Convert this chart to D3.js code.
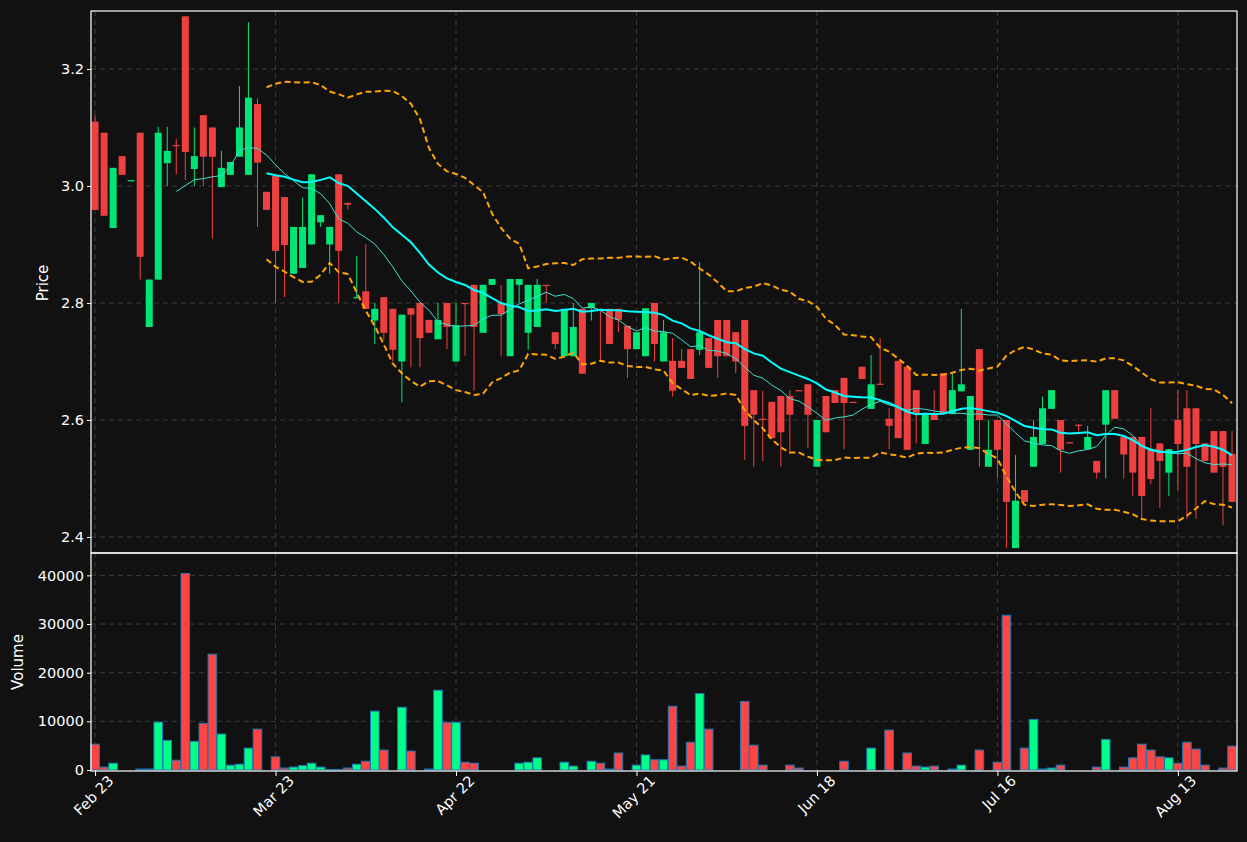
<!DOCTYPE html>
<html><head><meta charset="utf-8">
<script src="https://cdn.jsdelivr.net/npm/d3@7"></script>
<style>body{margin:0;background:#111111;}svg{display:block;font-family:"DejaVu Sans",sans-serif;}</style>
</head><body><svg id="c" width="1247" height="842"></svg>
<script>
const tickLabels = ["Feb 23","Mar 23","Apr 22","May 21","Jun 18","Jul 16","Aug 13"];
const tickIndex = [0,20,40,60,80,100,120];
const open = [3.11,3.091,2.928,3.051,3.01,3.091,2.759,2.84,3.039,3.07,3.29,3.029,3.121,3.1,2.998,3.019,3.05,3.019,3.14,2.99,
3.017,2.981,2.85,2.86,2.9,2.938,2.9,3.02,2.971,2.81,2.82,2.77,2.81,2.79,2.7,2.791,2.8,2.771,2.738,2.8,
2.7,2.8,2.831,2.749,2.831,2.8,2.709,2.831,2.749,2.759,2.831,2.75,2.709,2.709,2.79,2.791,2.79,2.79,2.79,2.761,
2.721,2.709,2.8,2.7,2.701,2.701,2.721,2.72,2.74,2.771,2.771,2.75,2.771,2.651,2.602,2.631,2.641,2.641,2.651,2.661,
2.52,2.641,2.651,2.672,2.631,2.691,2.619,2.662,2.602,2.701,2.691,2.651,2.559,2.612,2.68,2.61,2.649,2.549,2.721,2.52,
2.6,2.6,2.381,2.48,2.52,2.559,2.619,2.6,2.562,2.592,2.55,2.53,2.592,2.651,2.571,2.571,2.571,2.55,2.56,2.51,
2.6,2.62,2.62,2.56,2.581,2.581,2.542];
const high = [3.121,3.091,3.031,3.051,3.01,3.091,2.84,3.101,3.101,3.08,3.29,3.1,3.121,3.1,3.06,3.041,3.171,3.28,3.15,2.99,
3.017,2.981,2.93,2.98,3.02,2.95,2.93,3.02,2.972,2.88,2.9,2.8,2.81,2.79,2.78,2.791,2.8,2.771,2.8,2.8,
2.8,2.8,2.831,2.831,2.841,2.831,2.841,2.841,2.831,2.841,2.831,2.75,2.79,2.8,2.79,2.8,2.79,2.79,2.79,2.761,
2.75,2.791,2.8,2.771,2.74,2.721,2.721,2.87,2.74,2.771,2.771,2.75,2.771,2.651,2.65,2.631,2.641,2.651,2.651,2.661,
2.6,2.641,2.651,2.672,2.631,2.691,2.711,2.74,2.62,2.701,2.691,2.651,2.612,2.651,2.68,2.68,2.79,2.641,2.721,2.6,
2.6,2.6,2.54,2.48,2.6,2.64,2.651,2.6,2.562,2.592,2.59,2.53,2.651,2.651,2.571,2.571,2.571,2.621,2.56,2.55,
2.651,2.651,2.62,2.56,2.581,2.581,2.581];
const low = [2.959,2.949,2.928,3.019,3.01,2.84,2.759,2.84,3.0,3.02,3.01,3.0,3.0,2.91,2.998,3.019,3.05,3.019,2.93,2.959,
2.8,2.81,2.85,2.86,2.9,2.93,2.85,2.8,2.96,2.81,2.79,2.73,2.737,2.7,2.63,2.69,2.69,2.749,2.738,2.721,
2.7,2.71,2.65,2.749,2.831,2.709,2.709,2.8,2.72,2.759,2.8,2.721,2.709,2.709,2.679,2.77,2.7,2.73,2.75,2.672,
2.721,2.709,2.7,2.7,2.64,2.689,2.67,2.711,2.689,2.672,2.709,2.68,2.532,2.52,2.53,2.569,2.52,2.542,2.65,2.552,
2.52,2.579,2.629,2.55,2.63,2.67,2.619,2.66,2.55,2.569,2.549,2.56,2.559,2.6,2.61,2.61,2.649,2.549,2.52,2.52,
2.5,2.381,2.381,2.46,2.52,2.559,2.619,2.51,2.56,2.58,2.55,2.5,2.5,2.602,2.5,2.47,2.431,2.49,2.45,2.47,
2.48,2.431,2.431,2.53,2.51,2.42,2.46];
const close = [2.959,2.949,3.031,3.019,3.01,2.879,2.84,3.091,3.06,3.068,3.058,3.051,3.05,3.05,3.031,3.041,3.1,3.151,3.04,2.959,
2.889,2.899,2.93,2.93,3.02,2.95,2.93,2.889,2.968,2.81,2.79,2.79,2.749,2.72,2.78,2.78,2.74,2.749,2.771,2.759,
2.762,2.798,2.759,2.831,2.841,2.781,2.841,2.841,2.831,2.831,2.829,2.73,2.79,2.759,2.679,2.8,2.789,2.73,2.771,2.721,
2.75,2.791,2.73,2.75,2.65,2.689,2.67,2.75,2.689,2.709,2.709,2.7,2.59,2.609,2.6,2.569,2.579,2.609,2.65,2.609,
2.6,2.579,2.629,2.629,2.63,2.67,2.661,2.66,2.59,2.569,2.549,2.612,2.612,2.6,2.61,2.651,2.661,2.641,2.6,2.549,
2.549,2.46,2.462,2.46,2.571,2.62,2.651,2.549,2.56,2.591,2.571,2.51,2.651,2.602,2.541,2.51,2.47,2.499,2.53,2.55,
2.559,2.52,2.559,2.53,2.51,2.52,2.46];
const volume = [5300,600,1400,0,0,200,200,9850,6100,2000,40400,5900,9600,23800,7400,1000,1200,4500,8400,0,
2700,400,600,900,1400,600,100,100,400,1200,1800,12100,4100,0,12900,3900,0,200,16400,9800,
9800,1600,1400,0,0,0,0,1400,1600,2500,0,0,1600,800,0,1800,1400,200,3500,0,
1000,3100,2100,2100,13100,800,5700,15700,8400,0,0,0,14100,5100,1000,0,0,1000,400,0,
0,0,0,1800,0,0,4500,0,8200,0,3500,800,600,800,0,200,1000,0,4100,0,
1600,31800,0,4500,10400,200,400,1000,0,0,0,600,6300,0,600,2500,5300,4100,2700,2500,
1400,5700,4300,1000,0,400,4900];

const UP="#00e676", DN="#ef4040", VUP="#00ff88", VDN="#ff4444";
const svg=d3.select("#c");
svg.append("rect").attr("width",1247).attr("height",842).attr("fill","#111111");
const L=91,R=1237,T=11,M=553,B=771;
const n=close.length;
const x=d3.scaleLinear().domain([-0.45,126.55]).range([L,R]);
const yP=d3.scaleLinear().domain([2.3726,3.2991]).range([M,T]);
const yV=d3.scaleLinear().domain([0,44600]).range([770,M]);
const bw=7;

function grid(g,xs,y0,y1){
  g.selectAll(".vg").data(xs).join("line").attr("x1",d=>x(d)).attr("x2",d=>x(d)).attr("y1",y0).attr("y2",y1)
   .attr("stroke","#3a3a3a").attr("stroke-dasharray","5,4").attr("stroke-width",1);
}
const gp=svg.append("g");
grid(gp,tickIndex,T,M);
[2.4,2.6,2.8,3.0,3.2].forEach(v=>gp.append("line").attr("x1",L).attr("x2",R).attr("y1",yP(v)).attr("y2",yP(v)).attr("stroke","#3a3a3a").attr("stroke-dasharray","5,4"));
const gv=svg.append("g");
grid(gv,tickIndex,M,B);
[10000,20000,30000,40000].forEach(v=>gv.append("line").attr("x1",L).attr("x2",R).attr("y1",yV(v)).attr("y2",yV(v)).attr("stroke","#3a3a3a").attr("stroke-dasharray","5,4"));

svg.append("clipPath").attr("id","cp").append("rect").attr("x",L).attr("y",T).attr("width",R-L).attr("height",M-T);
const pc=svg.append("g").attr("clip-path","url(#cp)");
const idx=d3.range(n);
pc.selectAll(".w").data(idx).join("line").attr("x1",i=>x(i)).attr("x2",i=>x(i))
  .attr("y1",i=>yP(high[i])).attr("y2",i=>yP(low[i])).attr("stroke",i=>close[i]>=open[i]?UP:DN).attr("stroke-width",1);
pc.selectAll(".b").data(idx).join("rect").attr("x",i=>x(i)-bw/2).attr("width",bw)
  .attr("y",i=>yP(Math.max(open[i],close[i]))).attr("height",i=>Math.max(1.2,Math.abs(yP(open[i])-yP(close[i]))))
  .attr("fill",i=>close[i]>=open[i]?UP:DN);
function ma(p){return idx.map(i=>i<p-1?null:d3.mean(close.slice(i-p+1,i+1)));}
function sd(p){return idx.map(i=>i<p-1?null:d3.deviation(close.slice(i-p+1,i+1)));}
const ma10=ma(10), ma20=ma(20), s20=sd(20);
const line=d3.line().defined(d=>d[1]!=null).x(d=>x(d[0])).y(d=>yP(d[1]));
pc.append("path").attr("d",line(idx.map(i=>[i,ma20[i]==null?null:ma20[i]+2*s20[i]]))).attr("fill","none").attr("stroke","#ffa500").attr("stroke-width",2).attr("stroke-dasharray","6,3.5");
pc.append("path").attr("d",line(idx.map(i=>[i,ma20[i]==null?null:ma20[i]-2*s20[i]]))).attr("fill","none").attr("stroke","#ffa500").attr("stroke-width",2).attr("stroke-dasharray","6,3.5");
pc.append("path").attr("d",line(idx.map(i=>[i,ma10[i]]))).attr("fill","none").attr("stroke","#40e0d0").attr("stroke-width",1);
pc.append("path").attr("d",line(idx.map(i=>[i,ma20[i]]))).attr("fill","none").attr("stroke","#00ffff").attr("stroke-width",2);

svg.selectAll(".v").data(idx.filter(i=>volume[i]>0)).join("rect").attr("x",i=>x(i)-4.3).attr("width",8.6)
  .attr("y",i=>yV(volume[i])).attr("height",i=>yV(0)-yV(volume[i]))
  .attr("fill",i=>close[i]>=open[i]?VUP:VDN).attr("stroke","#1f77b4").attr("stroke-width",1);

[[T,M],[M,B]].forEach(([a,b])=>svg.append("rect").attr("x",L).attr("y",a).attr("width",R-L).attr("height",b-a).attr("fill","none").attr("stroke","#ffffff").attr("stroke-width",1.2));

const axP=d3.axisLeft(yP).tickValues([2.4,2.6,2.8,3.0,3.2]).tickFormat(d3.format(".1f")).tickSize(4);
const axV=d3.axisLeft(yV).tickValues([0,10000,20000,30000,40000]).tickFormat(d3.format("d")).tickSize(4);
const axX=d3.axisBottom(x).tickValues(tickIndex).tickFormat((d,i)=>tickLabels[i]).tickSize(5);
function style(g){g.select(".domain").remove();g.selectAll("line").attr("stroke","#fff");g.selectAll("text").attr("fill","#fff").style("font-size","14.5px").style("font-family","DejaVu Sans");}
svg.append("g").attr("transform",`translate(${L},0)`).call(axP).call(style);
svg.append("g").attr("transform",`translate(${L},0)`).call(axV).call(style);
const gx=svg.append("g").attr("transform",`translate(0,${B})`).call(axX).call(style);
gx.selectAll("text").attr("text-anchor","end").attr("dx","0.4em").attr("dy","0.9em").attr("transform","rotate(-45)");
svg.append("text").attr("transform","translate(48,283) rotate(-90)").attr("text-anchor","middle").attr("fill","#fff").style("font-size","15px").text("Price");
svg.append("text").attr("transform","translate(23,662) rotate(-90)").attr("text-anchor","middle").attr("fill","#fff").style("font-size","15px").text("Volume");
</script></body></html>
